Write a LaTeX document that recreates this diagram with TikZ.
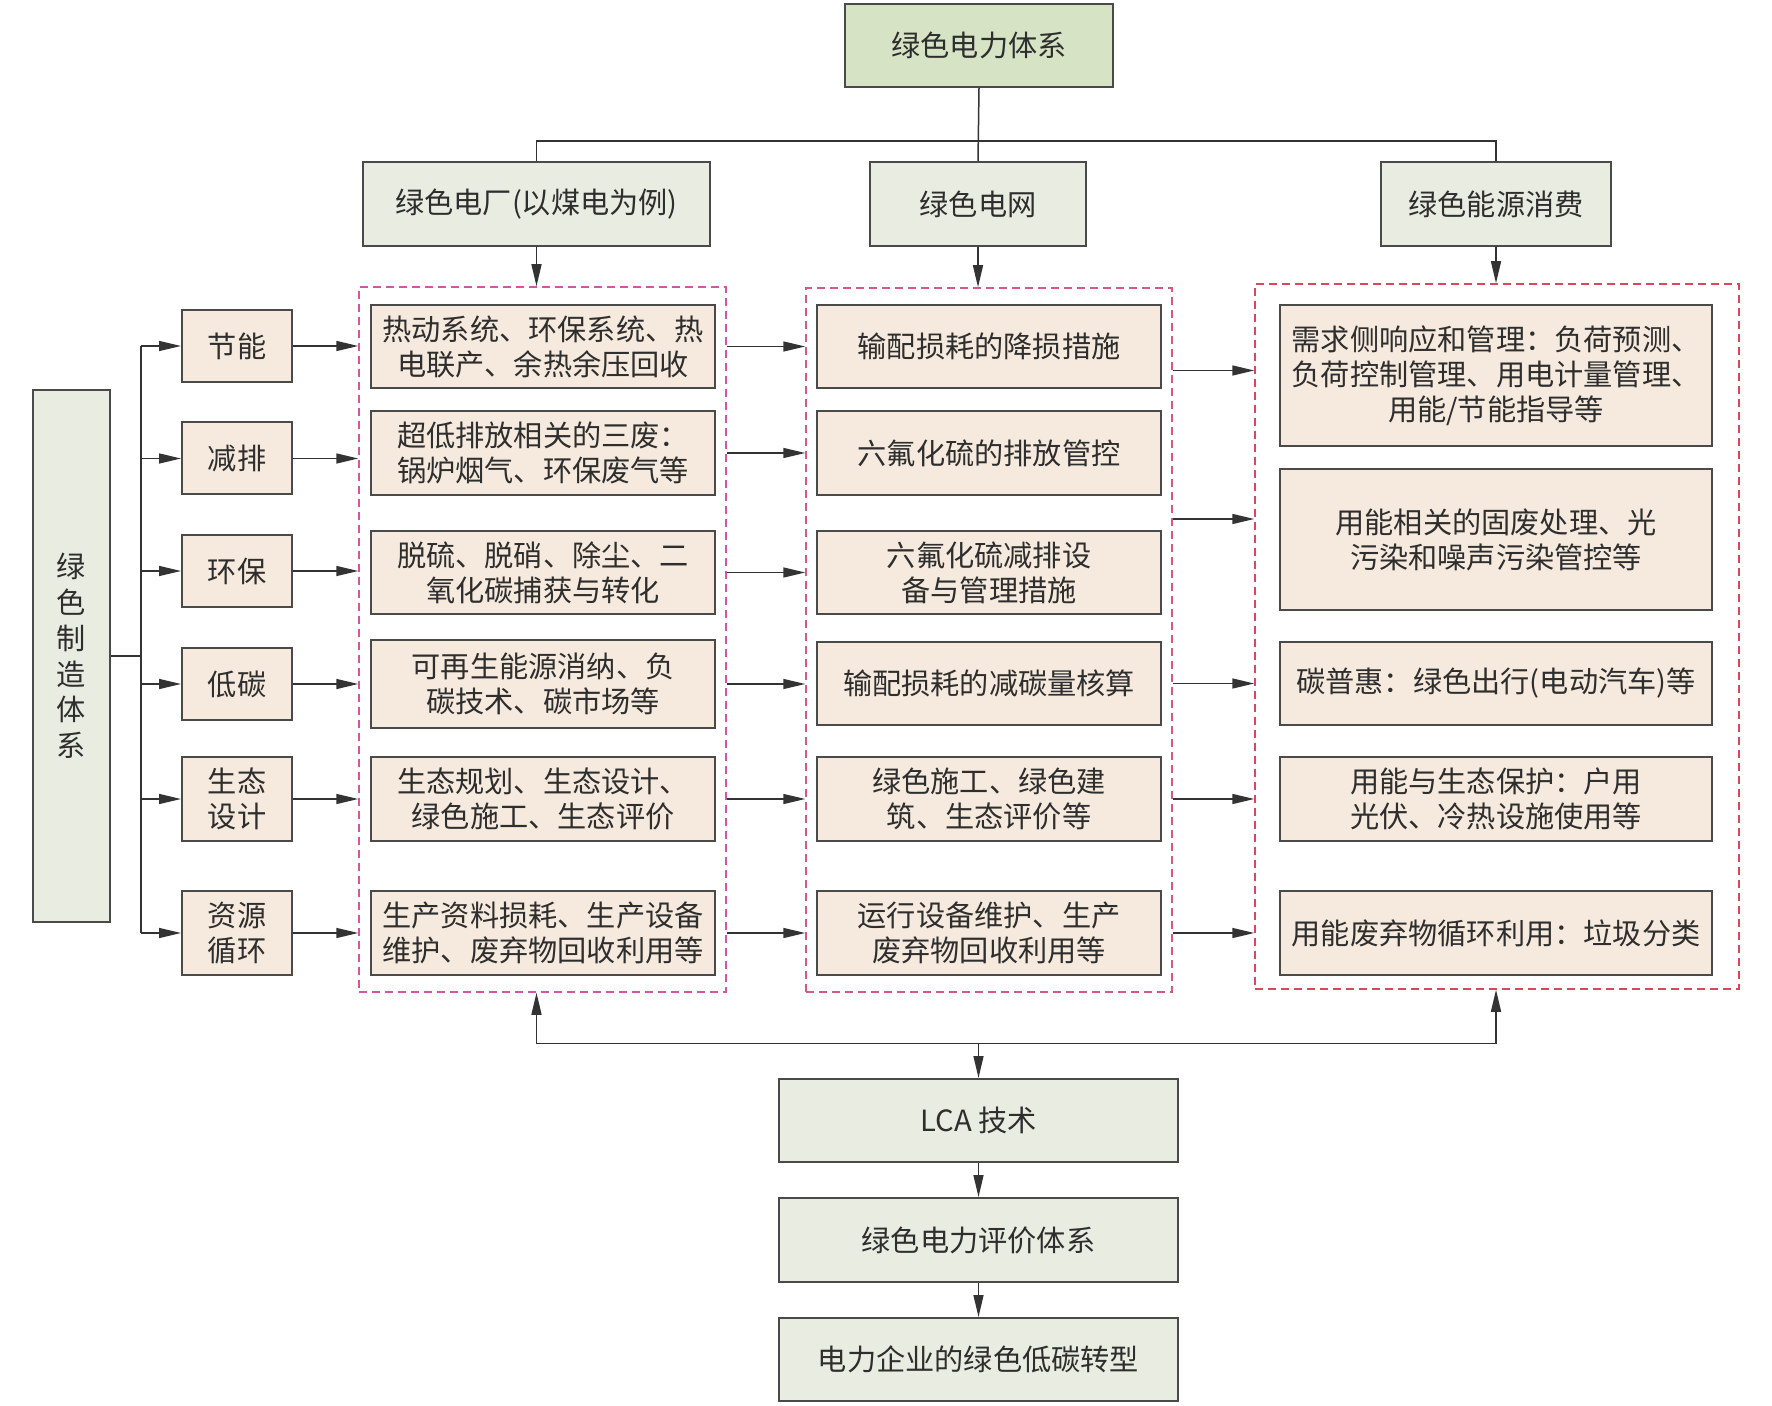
\documentclass[tikz,border=0pt]{standalone}
\usepackage{fontspec}
\setmainfont{Noto Sans CJK SC}
\usetikzlibrary{arrows.meta}
\begin{document}
\begin{tikzpicture}[x=0.5pt, y=-0.5pt,
  box/.style={draw=boxline, line width=1pt, align=center, inner sep=0pt, text=textcol, font=\fontsize{14.6}{17.5}\selectfont},
  topbox/.style={box, fill=topfill},
  headbox/.style={box, fill=headfill},
  itembox/.style={box, fill=itemfill},
  link/.style={draw=linecol, line width=0.75pt},
  arr/.style={link, -{Triangle[length=11pt,width=5pt]}},
  group/.style={line width=0.75pt, dash pattern=on 4pt off 2.5pt, inner sep=0pt}]
\definecolor{topfill}{HTML}{D6E3C5}
\definecolor{headfill}{HTML}{E8ECE1}
\definecolor{itemfill}{HTML}{F5EADD}
\definecolor{boxline}{HTML}{4A4A4A}
\definecolor{linecol}{HTML}{333333}
\definecolor{textcol}{HTML}{2E2E2E}
\definecolor{grpL}{HTML}{D455A5}
\definecolor{grpM}{HTML}{D45A80}
\definecolor{grpR}{HTML}{D8485A}
\useasboundingbox (0,0) rectangle (1772,1406);
% top and heads
\node[topbox, minimum width=134pt, minimum height=41.5pt] (top) at (979,45.5) {绿色电力体系};
\node[headbox, minimum width=173.5pt, minimum height=42pt] (plant) at (536.5,204) {绿色电厂(以煤电为例)};
\node[headbox, minimum width=108pt, minimum height=42pt] (grid) at (978,204) {绿色电网};
\node[headbox, minimum width=115pt, minimum height=42pt] (cons) at (1496,204) {绿色能源消费};
% groups
\node[group, draw=grpL, minimum width=183.5pt, minimum height=352.5pt] (L) at (542.5,639.5) {};
\node[group, draw=grpM, minimum width=183pt, minimum height=352pt] (M) at (989,640) {};
\node[group, draw=grpR, minimum width=242pt, minimum height=352.5pt] (R) at (1497,636.5) {};
% left side
\node[headbox, minimum width=38.5pt, minimum height=266pt, font=\fontsize{14.6}{17.9}\selectfont] (make) at (71.5,656) {绿\\色\\制\\造\\体\\系};
\node[itembox, minimum width=55pt, minimum height=36pt] (s1) at (237,346) {节能};
\node[itembox, minimum width=55pt, minimum height=36pt] (s2) at (237,458.5) {减排};
\node[itembox, minimum width=55pt, minimum height=36pt] (s3) at (237,571) {环保};
\node[itembox, minimum width=55pt, minimum height=36pt] (s4) at (237,684) {低碳};
\node[itembox, minimum width=55pt, minimum height=42pt] (s5) at (237,799) {生态\\设计};
\node[itembox, minimum width=55pt, minimum height=42pt] (s6) at (237,933) {资源\\循环};
% plant items
\node[itembox, minimum width=172pt, minimum height=41.5pt] (a1) at (543,346.5) {热动系统、环保系统、热\\电联产、余热余压回收};
\node[itembox, minimum width=172pt, minimum height=42pt] (a2) at (543,453) {超低排放相关的三废：\\锅炉烟气、环保废气等};
\node[itembox, minimum width=172pt, minimum height=41.5pt] (a3) at (543,572.5) {脱硫、脱硝、除尘、二\\氧化碳捕获与转化};
\node[itembox, minimum width=172pt, minimum height=44pt] (a4) at (543,684) {可再生能源消纳、负\\碳技术、碳市场等};
\node[itembox, minimum width=172pt, minimum height=42pt] (a5) at (543,799) {生态规划、生态设计、\\绿色施工、生态评价};
\node[itembox, minimum width=172pt, minimum height=42pt] (a6) at (543,933) {生产资料损耗、生产设备\\维护、废弃物回收利用等};
% grid items
\node[itembox, minimum width=172pt, minimum height=41.5pt] (b1) at (989,346.5) {输配损耗的降损措施};
\node[itembox, minimum width=172pt, minimum height=42pt] (b2) at (989,453) {六氟化硫的排放管控};
\node[itembox, minimum width=172pt, minimum height=41.5pt] (b3) at (989,572.5) {六氟化硫减排设\\备与管理措施};
\node[itembox, minimum width=172pt, minimum height=41.5pt] (b4) at (989,683.5) {输配损耗的减碳量核算};
\node[itembox, minimum width=172pt, minimum height=42pt] (b5) at (989,799) {绿色施工、绿色建\\筑、生态评价等};
\node[itembox, minimum width=172pt, minimum height=42pt] (b6) at (989,933) {运行设备维护、生产\\废弃物回收利用等};
% consumption items
\node[itembox, minimum width=216pt, minimum height=70.5pt] (r1) at (1496,375.5) {需求侧响应和管理：负荷预测、\\负荷控制管理、用电计量管理、\\用能/节能指导等};
\node[itembox, minimum width=216pt, minimum height=70.5pt] (r2) at (1496,539.5) {用能相关的固废处理、光\\污染和噪声污染管控等};
\node[itembox, minimum width=216pt, minimum height=41.5pt] (r3) at (1496,683.5) {碳普惠：绿色出行(电动汽车)等};
\node[itembox, minimum width=216pt, minimum height=42pt] (r4) at (1496,799) {用能与生态保护：户用\\光伏、冷热设施使用等};
\node[itembox, minimum width=216pt, minimum height=42pt] (r5) at (1496,933) {用能废弃物循环利用：垃圾分类};
% bottom chain
\node[headbox, minimum width=199.5pt, minimum height=41.5pt] (lca) at (978.5,1120.5) {LCA 技术};
\node[headbox, minimum width=199.5pt, minimum height=42pt] (eval) at (978.5,1240) {绿色电力评价体系};
\node[headbox, minimum width=199.5pt, minimum height=41.5pt] (final) at (978.5,1359.5) {电力企业的绿色低碳转型};
% top tree
\coordinate (bus) at (979,141);
\draw[link] (top.south) -- (grid.north);
\draw[link] (plant.north) |- (bus) -| (cons.north);
\draw[arr] (plant.south) -- (plant.south |- L.north);
\draw[arr] (grid.south) -- (grid.south |- M.north);
\draw[arr] (cons.south) -- (cons.south |- R.north);
% left tree
\coordinate (trunk) at (141,656);
\draw[link] (make.east) -- (trunk);
\draw[link] (trunk |- s1) -- (trunk |- s6);
\draw[arr] (trunk |- s1) -- (s1.west);
\draw[arr] (trunk |- s2) -- (s2.west);
\draw[arr] (trunk |- s3) -- (s3.west);
\draw[arr] (trunk |- s4) -- (s4.west);
\draw[arr] (trunk |- s5) -- (s5.west);
\draw[arr] (trunk |- s6) -- (s6.west);
\draw[arr] (s1.east) -- (s1.east -| L.west);
\draw[arr] (s2.east) -- (s2.east -| L.west);
\draw[arr] (s3.east) -- (s3.east -| L.west);
\draw[arr] (s4.east) -- (s4.east -| L.west);
\draw[arr] (s5.east) -- (s5.east -| L.west);
\draw[arr] (s6.east) -- (s6.east -| L.west);
% plant to grid
\draw[arr] (a1 -| L.east) -- (a1 -| M.west);
\draw[arr] (a2 -| L.east) -- (a2 -| M.west);
\draw[arr] (a3 -| L.east) -- (a3 -| M.west);
\draw[arr] (a4 -| L.east) -- (a4 -| M.west);
\draw[arr] (a5 -| L.east) -- (a5 -| M.west);
\draw[arr] (a6 -| L.east) -- (a6 -| M.west);
% grid to consumption
\draw[arr] ([yshift=2.5pt]r1.west -| M.east) -- ([yshift=2.5pt]r1.west -| R.west);
\draw[arr] ([yshift=10.25pt]r2.west -| M.east) -- ([yshift=10.25pt]r2.west -| R.west);
\draw[arr] (r3 -| M.east) -- (r3 -| R.west);
\draw[arr] (r4 -| M.east) -- (r4 -| R.west);
\draw[arr] (r5 -| M.east) -- (r5 -| R.west);
% bottom tree
\coordinate (busB) at (978.5,1043.6);
\draw[arr] (busB) -| (plant.south |- L.south);
\draw[arr] (busB) -| (cons.south |- R.south);
\draw[arr] (busB) -- (lca.north);
\draw[arr] (lca) -- (eval);
\draw[arr] (eval) -- (final);
\end{tikzpicture}
\end{document}
